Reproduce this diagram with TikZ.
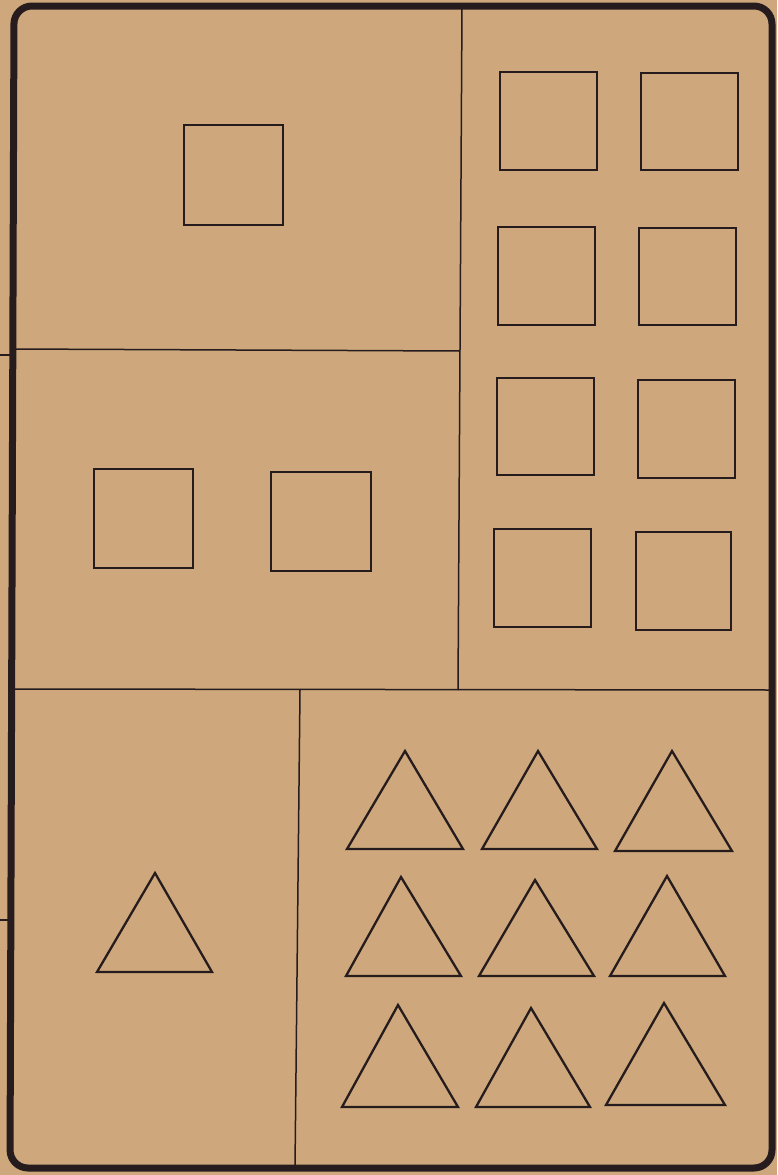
\documentclass[tikz,border=0pt]{standalone}
\definecolor{paper}{RGB}{206,168,124}
\definecolor{ink}{RGB}{38,28,30}
\tikzset{
  frameline/.style={draw=ink, line width=7pt, rounded corners=18pt},
  panelline/.style={draw=ink, line width=1.5pt},
  shapeline/.style={draw=ink, line width=2.3pt, line join=miter},
}
\begin{document}
\begin{tikzpicture}[x=1pt,y=-1pt]
\fill[paper] (0,0) rectangle (777,1175);
\useasboundingbox (0,0) rectangle (777,1175);
% outer frame
\draw[frameline] (14,6) -- (772,6) -- (772,1168) -- (10,1168) -- cycle;
% small marks left of frame
\draw[panelline] (0,355) -- (12,355);
\draw[panelline] (0,920) -- (10,920);
% panel dividers
\draw[panelline] (462,7) -- (458,690);
\draw[panelline] (14,349) -- (460,351);
\draw[panelline] (12,689) -- (772,690);
\draw[panelline] (300,690) -- (295,1168);
% squares
\draw[shapeline] (184,125) rectangle (283,225);
\draw[shapeline] (94,469) rectangle (193,568);
\draw[shapeline] (271,472) rectangle (371,571);
\draw[shapeline] (500,72) rectangle (597,170);
\draw[shapeline] (641,73) rectangle (738,170);
\draw[shapeline] (498,227) rectangle (595,325);
\draw[shapeline] (639,228) rectangle (736,325);
\draw[shapeline] (497,378) rectangle (594,475);
\draw[shapeline] (638,380) rectangle (735,478);
\draw[shapeline] (494,529) rectangle (591,627);
\draw[shapeline] (636,532) rectangle (731,630);
% triangles
\draw[shapeline] (155,873) -- (212,972) -- (97,972) -- cycle;
\draw[shapeline] (405,751) -- (463,849) -- (347,849) -- cycle;
\draw[shapeline] (538,751) -- (597,849) -- (482,849) -- cycle;
\draw[shapeline] (672,751) -- (732,851) -- (615,851) -- cycle;
\draw[shapeline] (401,877) -- (461,976) -- (346,976) -- cycle;
\draw[shapeline] (535,880) -- (594,976) -- (479,976) -- cycle;
\draw[shapeline] (667,876) -- (725,976) -- (610,976) -- cycle;
\draw[shapeline] (398,1005) -- (458,1107) -- (342,1107) -- cycle;
\draw[shapeline] (531,1008) -- (590,1107) -- (476,1107) -- cycle;
\draw[shapeline] (664,1003) -- (725,1105) -- (606,1105) -- cycle;
\end{tikzpicture}
\end{document}
